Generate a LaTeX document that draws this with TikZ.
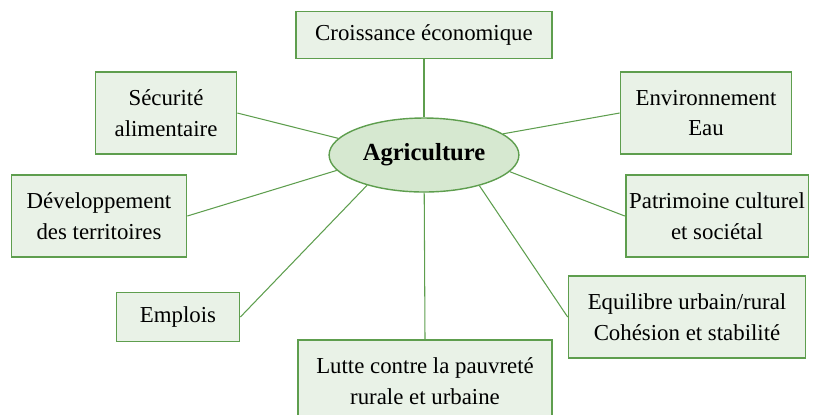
\documentclass[tikz,border=0pt]{standalone}
\usepackage{fontspec}
\setmainfont{Liberation Serif}
\definecolor{themefill}{HTML}{E9F2E7}
\definecolor{themestroke}{HTML}{5E9E4E}
\definecolor{hubfill}{HTML}{D6E8D0}
\usetikzlibrary{shapes.geometric}

\begin{document}
\begin{tikzpicture}[x=0.02cm, y=-0.02cm,
    theme/.style={draw=themestroke, fill=themefill, line width=1pt, align=center,
      font=\fontsize{13}{17.5}\selectfont, inner sep=2pt},
    hub/.style={ellipse, draw=themestroke, fill=hubfill, line width=0.8pt,
      minimum width=3.78cm, minimum height=1.48cm, font=\fontsize{14}{16}\selectfont\bfseries},
    link/.style={draw=themestroke, line width=0.6pt}]
  \useasboundingbox (0,0) rectangle (830,414);
  \clip (0,0) rectangle (830,414);

  % centre
  \node[hub] (agri) at (424,155) {Agriculture};

  % themes
  \node[theme, minimum width=5.12cm, minimum height=0.94cm] (croissance) at (424,35) {Croissance économique};
  \node[theme, minimum width=2.82cm, minimum height=1.64cm] (securite) at (166,113) {Sécurité\\alimentaire};
  \node[theme, minimum width=3.42cm, minimum height=1.64cm] (environnement) at (706,113) {Environnement\\Eau};
  \node[theme, minimum width=3.5cm, minimum height=1.64cm] (territoires) at (99,216) {Développement\\des territoires};
  \node[theme, minimum width=3.54cm, minimum height=1.64cm] (patrimoine) at (717,216) {Patrimoine culturel\\et sociétal};
  \node[theme, minimum width=2.46cm, minimum height=0.98cm] (emplois) at (178,317) {Emplois};
  \node[theme, minimum width=4.74cm, minimum height=1.64cm] (equilibre) at (687,317) {Equilibre urbain/rural\\Cohésion et stabilité};
  \node[theme, minimum width=5.08cm, minimum height=1.64cm] (pauvrete) at (425,381) {Lutte contre la pauvreté\\rurale et urbaine};

  % links
  \draw[link] (croissance.south) -- (agri);
  \draw[link] (securite.east) -- (agri.169);
  \draw[link] (environnement.west) -- (agri.15);
  \draw[link] (territoires.east) -- (agri.190);
  \draw[link] (patrimoine.west) -- (agri.349);
  \draw[link] (emplois.east) -- (agri.208);
  \draw[link] (equilibre.west) -- (agri.331);
  \draw[link] (pauvrete.north) -- (agri);
\end{tikzpicture}
\end{document}
